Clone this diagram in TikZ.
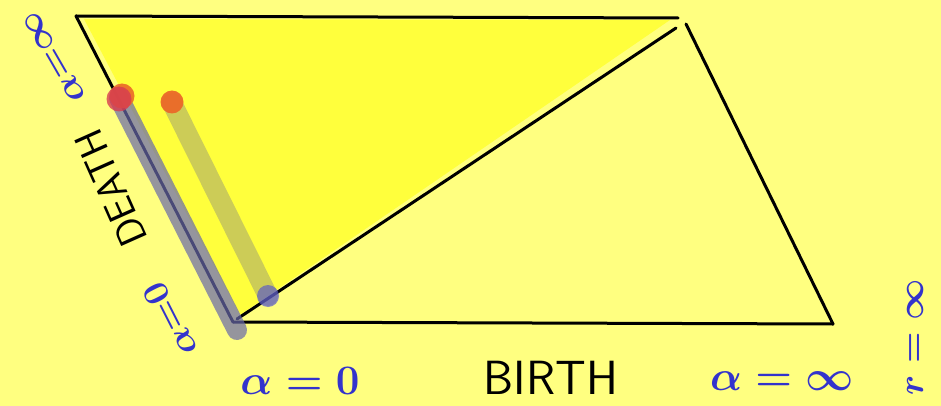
\RequirePackage{fix-cm}
\documentclass[tikz,border=0pt]{standalone}
\usepackage{amsmath}
\usepackage{tikz}
\usetikzlibrary{positioning}

\definecolor{paperyellow}{RGB}{255,255,128}
\definecolor{fillyellow}{RGB}{255,255,60}
\definecolor{inkblue}{RGB}{51,51,204}
\definecolor{smudge}{RGB}{105,105,170}
\definecolor{dotred}{RGB}{215,60,80}
\definecolor{dotorange}{RGB}{235,105,40}
\definecolor{dotblue}{RGB}{85,85,205}

\begin{document}
\begin{tikzpicture}[x=1pt,y=-1pt,
  edge/.style={draw=black,line width=3pt,line cap=round},
  bluelbl/.style={text=inkblue,inner sep=0pt,font=\boldmath\fontsize{42}{42}\selectfont},
  smallbluelbl/.style={text=inkblue,inner sep=0pt,font=\boldmath\fontsize{36}{36}\selectfont},
  blacklbl/.style={text=black,inner sep=0pt,font=\sffamily\fontsize{48}{48}\selectfont},
  trace/.style={line width=20pt,line cap=round}]

\fill[paperyellow] (0,0) rectangle (941,406);
\useasboundingbox (0,0) rectangle (941,406);

% corners of the parallelogram
\coordinate (tl) at (76,16);
\coordinate (tr) at (678,18);
\coordinate (rt) at (686,24);
\coordinate (br) at (833,324);
\coordinate (bl) at (233,322);
\coordinate (dtop) at (676,28);
\coordinate (dbot) at (237,319);

% upper triangle
\fill[fillyellow] (84,19) -- (670,20) -- (240,315) -- cycle;

\draw[edge] (tl) -- (tr);
\draw[edge] (rt) -- (br);
\draw[edge] (bl) -- (br);
\draw[edge] (tl) -- (bl);
\draw[edge] (dbot) -- (dtop);

% traces
\coordinate (redpt) at (119,98);
\coordinate (orpt) at (172,103);
\coordinate (bluept) at (268,296);
\coordinate (lowend) at (237,330);
\draw[trace,draw=smudge,opacity=.7] (redpt) -- (lowend);
\draw[trace,draw=gray,opacity=.4] (orpt) -- (bluept);
\fill[dotorange,opacity=.9] (122,96) circle (12.5pt);
\fill[dotred,opacity=.8] (119,99) circle (12.5pt);
\fill[dotorange,opacity=.95] (172,102) circle (11.5pt);
\fill[dotblue,opacity=.65] (268,296) circle (11pt);

% labels
\node[smallbluelbl,rotate=120] (ainftop) at (54,57) {$\alpha{=}\infty$};
\node[blacklbl,rotate=114,font=\sffamily\fontsize{40}{40}\selectfont] (death) at (111,188) {DEATH};
\node[smallbluelbl,rotate=117] (azeroleft) at (170,320) {$\alpha{=}0$};
\node[bluelbl] (azero) at (300,381) {$\alpha = 0$};
\node[blacklbl] (birth) at (551,378) {BIRTH};
\node[bluelbl] (ainf) at (782,381) {$\alpha = \infty$};
\node[smallbluelbl,rotate=90] (rinf) at (915,337) {$r = \infty$};
\end{tikzpicture}
\end{document}
